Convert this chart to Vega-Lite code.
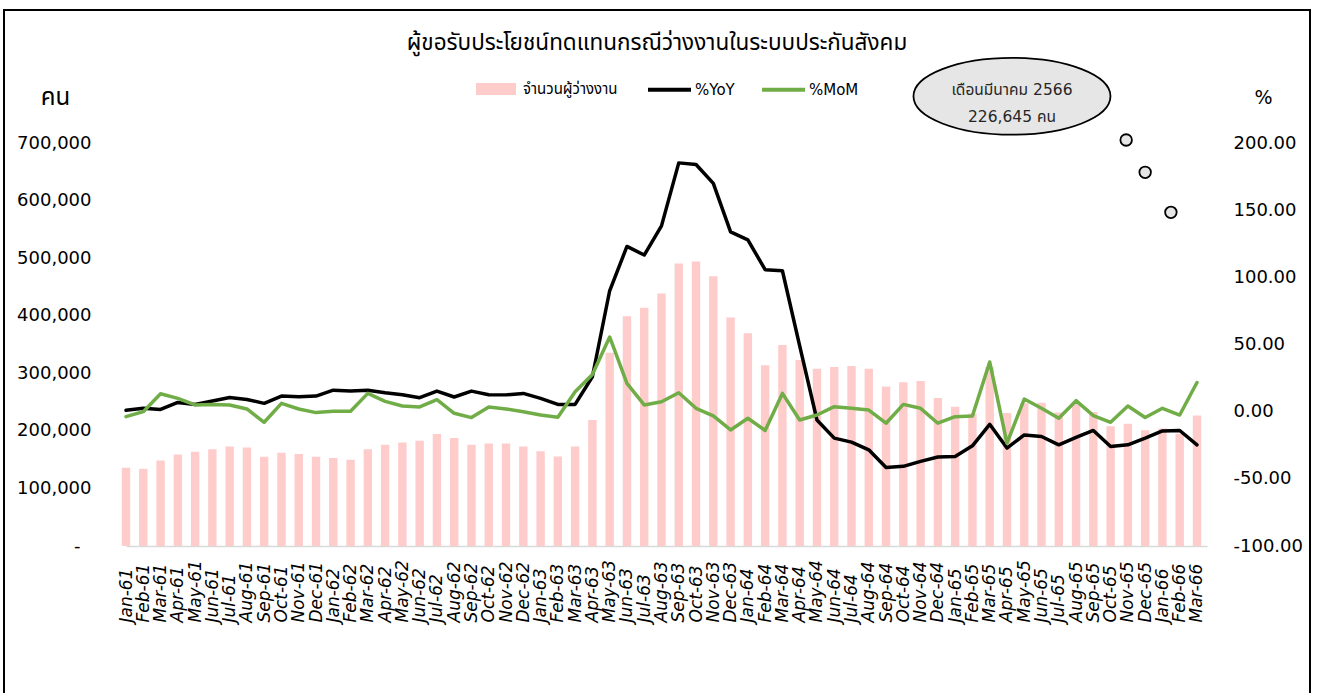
{
  "$schema": "https://vega.github.io/schema/vega-lite/v6.json",
  "width": 1306,
  "height": 700,
  "autosize": {"type": "none"},
  "padding": {"left": 4, "top": 10, "right": 9, "bottom": 0},
  "background": "white",
  "title": {
    "text": "ผู้ขอรับประโยชน์ทดแทนกรณีว่างงานในระบบประกันสังคม",
    "font": "Noto Sans Thai, Noto Sans, DejaVu Sans, sans-serif",
    "fontSize": 22.5,
    "fontWeight": "normal",
    "color": "#000000",
    "anchor": "middle",
    "dx": 0,
    "dy": 50.7,
    "offset": 6
  },
  "datasets": {
    "main": [
      {"m": "Jan-61", "n": 136000, "yoy": 1.0, "mom": -3.7},
      {"m": "Feb-61", "n": 134000, "yoy": 2.5, "mom": 0.0},
      {"m": "Mar-61", "n": 148500, "yoy": 1.7, "mom": 13.3},
      {"m": "Apr-61", "n": 159000, "yoy": 6.9, "mom": 9.9},
      {"m": "May-61", "n": 163500, "yoy": 5.4, "mom": 5.0},
      {"m": "Jun-61", "n": 168000, "yoy": 7.9, "mom": 5.4},
      {"m": "Jul-61", "n": 172700, "yoy": 10.6, "mom": 5.0},
      {"m": "Aug-61", "n": 171000, "yoy": 9.1, "mom": 2.0},
      {"m": "Sep-61", "n": 155000, "yoy": 6.2, "mom": -7.9},
      {"m": "Oct-61", "n": 162000, "yoy": 11.6, "mom": 6.2},
      {"m": "Nov-61", "n": 160000, "yoy": 11.1, "mom": 2.0},
      {"m": "Dec-61", "n": 155000, "yoy": 11.6, "mom": -0.7},
      {"m": "Jan-62", "n": 153000, "yoy": 16.0, "mom": 0.3},
      {"m": "Feb-62", "n": 150000, "yoy": 15.3, "mom": 0.3},
      {"m": "Mar-62", "n": 168000, "yoy": 16.0, "mom": 13.6},
      {"m": "Apr-62", "n": 176000, "yoy": 14.1, "mom": 7.7},
      {"m": "May-62", "n": 179600, "yoy": 12.6, "mom": 4.2},
      {"m": "Jun-62", "n": 183000, "yoy": 10.4, "mom": 3.5},
      {"m": "Jul-62", "n": 194600, "yoy": 15.3, "mom": 8.9},
      {"m": "Aug-62", "n": 187700, "yoy": 10.9, "mom": -1.2},
      {"m": "Sep-62", "n": 176000, "yoy": 15.3, "mom": -4.4},
      {"m": "Oct-62", "n": 178000, "yoy": 12.6, "mom": 3.5},
      {"m": "Nov-62", "n": 178000, "yoy": 12.5, "mom": 2.0},
      {"m": "Dec-62", "n": 172700, "yoy": 13.6, "mom": 0.0},
      {"m": "Jan-63", "n": 164700, "yoy": 9.9, "mom": -2.5},
      {"m": "Feb-63", "n": 155400, "yoy": 5.4, "mom": -4.2},
      {"m": "Mar-63", "n": 172700, "yoy": 5.4, "mom": 14.8},
      {"m": "Apr-63", "n": 219000, "yoy": 26.0, "mom": 27.7},
      {"m": "May-63", "n": 335600, "yoy": 90.0, "mom": 55.6},
      {"m": "Jun-63", "n": 399000, "yoy": 123.0, "mom": 21.0},
      {"m": "Jul-63", "n": 414000, "yoy": 116.6, "mom": 5.0},
      {"m": "Aug-63", "n": 438700, "yoy": 138.3, "mom": 7.4},
      {"m": "Sep-63", "n": 490500, "yoy": 185.2, "mom": 14.1},
      {"m": "Oct-63", "n": 494000, "yoy": 184.0, "mom": 2.5},
      {"m": "Nov-63", "n": 468600, "yoy": 169.9, "mom": -3.2},
      {"m": "Dec-63", "n": 397000, "yoy": 133.8, "mom": -13.6},
      {"m": "Jan-64", "n": 369600, "yoy": 127.9, "mom": -4.9},
      {"m": "Feb-64", "n": 314000, "yoy": 105.7, "mom": -14.0},
      {"m": "Mar-64", "n": 349000, "yoy": 104.9, "mom": 13.6},
      {"m": "Apr-64", "n": 323000, "yoy": 49.0, "mom": -6.2},
      {"m": "May-64", "n": 308000, "yoy": -6.2, "mom": -2.5},
      {"m": "Jun-64", "n": 311000, "yoy": -19.7, "mom": 3.7},
      {"m": "Jul-64", "n": 312600, "yoy": -22.7, "mom": 2.5},
      {"m": "Aug-64", "n": 308000, "yoy": -28.4, "mom": 1.2},
      {"m": "Sep-64", "n": 277000, "yoy": -41.5, "mom": -8.6},
      {"m": "Oct-64", "n": 284500, "yoy": -40.7, "mom": 5.4},
      {"m": "Nov-64", "n": 286700, "yoy": -37.0, "mom": 2.5},
      {"m": "Dec-64", "n": 257000, "yoy": -33.8, "mom": -8.6},
      {"m": "Jan-65", "n": 242000, "yoy": -33.3, "mom": -3.7},
      {"m": "Feb-65", "n": 230000, "yoy": -25.4, "mom": -3.2},
      {"m": "Mar-65", "n": 311000, "yoy": -9.4, "mom": 37.0},
      {"m": "Apr-65", "n": 231000, "yoy": -27.1, "mom": -23.4},
      {"m": "May-65", "n": 248000, "yoy": -17.3, "mom": 9.4},
      {"m": "Jun-65", "n": 249000, "yoy": -18.5, "mom": 2.5},
      {"m": "Jul-65", "n": 232000, "yoy": -24.7, "mom": -4.9},
      {"m": "Aug-65", "n": 247000, "yoy": -19.2, "mom": 8.2},
      {"m": "Sep-65", "n": 232600, "yoy": -14.0, "mom": -2.9},
      {"m": "Oct-65", "n": 208000, "yoy": -25.9, "mom": -7.9},
      {"m": "Nov-65", "n": 212400, "yoy": -24.7, "mom": 4.2},
      {"m": "Dec-65", "n": 201000, "yoy": -19.7, "mom": -4.4},
      {"m": "Jan-66", "n": 204000, "yoy": -14.3, "mom": 2.5},
      {"m": "Feb-66", "n": 195000, "yoy": -14.0, "mom": -2.5},
      {"m": "Mar-66", "n": 226645, "yoy": -24.7, "mom": 21.7}
    ],
    "bubble": [
      {"xi": 57.9, "v": 705200},
      {"xi": 59.0, "v": 649100},
      {"xi": 60.49, "v": 579600}
    ],
    "callout": [
      {"xi": 51.29, "v": 781100}
    ],
    "callouttext": [
      {"xi": 51.29, "v": 792000, "t": "เดือนมีนาคม 2566"},
      {"xi": 51.29, "v": 745700, "t": "226,645 คน"}
    ]
  },
  "data": {"name": "main"},
  "resolve": {"scale": {"x": "independent", "y": "independent"}},
  "layer": [
    {
      "mark": {"type": "bar", "width": 8.4},
      "encoding": {
        "x": {
          "field": "m", "type": "nominal", "sort": null,
          "scale": {"type": "point", "padding": 0.29, "align": 0, "range": [122, 1203]},
          "axis": {
            "title": null,
            "offset": -164,
            "labelAngle": 270,
            "labelAlign": "left",
            "labelBaseline": "middle",
            "labelPadding": 76,
            "labelFont": "DejaVu Sans",
            "labelFontSize": 17,
            "labelFontStyle": "italic",
            "labelColor": "#000000",
            "labelOverlap": false,
            "labelFlush": false,
            "labelBound": false,
            "ticks": false,
            "domain": true,
            "domainColor": "#d9d9d9",
            "domainWidth": 1.5,
            "grid": false
          }
        },
        "y": {
          "field": "n", "type": "quantitative",
          "scale": {"domain": [0, 700000], "nice": false, "range": [536, 133]},
          "axis": {
            "orient": "left",
            "offset": -122,
            "values": [0, 100000, 200000, 300000, 400000, 500000, 600000, 700000],
            "labelExpr": "datum.value == 0 ? '-' : format(datum.value, ',')",
            "labelFont": "DejaVu Sans",
            "labelFontSize": 18,
            "labelColor": "#000000",
            "labelPadding": {"condition": {"test": "datum.value == 0", "value": 46}, "value": 35},
            "ticks": false,
            "domain": false,
            "grid": false,
            "title": "คน",
            "titleAngle": 0,
            "titleX": -71,
            "titleY": 87,
            "titleAlign": "center",
            "titleBaseline": "middle",
            "titleFont": "Noto Sans Thai, Noto Sans, DejaVu Sans, sans-serif",
            "titleFontSize": 24,
            "titleFontWeight": "normal",
            "titleColor": "#000000"
          }
        },
        "fill": {
          "datum": "จำนวนผู้ว่างงาน",
          "type": "nominal",
          "scale": {"domain": ["จำนวนผู้ว่างงาน"], "range": ["#ffcccc"]},
          "legend": {
            "title": null,
            "orient": "none",
            "legendX": 472,
            "legendY": 59,
            "symbolType": "M-1,-0.3H1V0.3H-1Z",
            "symbolSize": 1600,
            "symbolStrokeWidth": 0,
            "labelFont": "DejaVu Sans, Noto Sans Thai, sans-serif",
            "labelFontSize": 15,
            "labelColor": "#000000",
            "labelOffset": 7,
            "padding": 0
          }
        }
      }
    },
    {
      "mark": {"type": "line", "strokeWidth": 3.5, "strokeJoin": "round", "strokeCap": "round"},
      "encoding": {
        "x": {
          "field": "m", "type": "nominal", "sort": null,
          "scale": {"type": "point", "padding": 0.29, "align": 0, "range": [122, 1203]},
          "axis": null
        },
        "y": {
          "field": "yoy", "type": "quantitative",
          "scale": {"domain": [-100, 200], "nice": false, "range": [536, 133]},
          "axis": {
            "orient": "right",
            "offset": -103,
            "values": [-100, -50, 0, 50, 100, 150, 200],
            "labelExpr": "replace(format(datum.value, '.2f'), '\u2212', '-')",
            "labelFont": "DejaVu Sans",
            "labelFontSize": 18,
            "labelColor": "#000000",
            "labelPadding": 26,
            "ticks": false,
            "domain": false,
            "grid": false,
            "title": "%",
            "titleAngle": 0,
            "titleX": 56,
            "titleY": 87,
            "titleAlign": "center",
            "titleBaseline": "middle",
            "titleFont": "DejaVu Sans",
            "titleFontSize": 19,
            "titleFontWeight": "normal",
            "titleColor": "#000000"
          }
        },
        "stroke": {
          "datum": "%YoY",
          "type": "nominal",
          "scale": {"domain": ["%YoY", "%MoM"], "range": ["#000000", "#70ad47"]},
          "legend": {
            "title": null,
            "orient": "none",
            "direction": "horizontal",
            "legendX": 642,
            "legendY": 56,
            "symbolType": "stroke",
            "symbolSize": 1849,
            "symbolStrokeWidth": 4,
            "labelFont": "DejaVu Sans",
            "labelFontSize": 15,
            "labelColor": "#000000",
            "labelOffset": 2,
            "columnPadding": 19,
            "padding": 0
          }
        }
      }
    },
    {
      "mark": {"type": "line", "strokeWidth": 3.5, "strokeJoin": "round", "strokeCap": "round"},
      "encoding": {
        "x": {
          "field": "m", "type": "nominal", "sort": null,
          "scale": {"type": "point", "padding": 0.29, "align": 0, "range": [122, 1203]},
          "axis": null
        },
        "y": {
          "field": "mom", "type": "quantitative",
          "scale": {"domain": [-100, 200], "nice": false, "range": [536, 133]},
          "axis": null
        },
        "stroke": {"datum": "%MoM", "type": "nominal"}
      }
    },
    {
      "data": {"name": "callout"},
      "mark": {
        "type": "point",
        "shape": "M-1,0A1,0.39,0,1,1,1,0A1,0.39,0,1,1,-1,0Z",
        "size": 38809,
        "filled": true,
        "fill": "#e6e6e6",
        "stroke": "#000000",
        "strokeWidth": 1.8,
        "opacity": 1
      },
      "encoding": {
        "x": {"field": "xi", "type": "quantitative", "scale": {"domain": [0, 62.58], "nice": false, "zero": false, "range": [122, 1203]}, "axis": null},
        "y": {"field": "v", "type": "quantitative", "scale": {"domain": [0, 700000], "nice": false, "range": [536, 133]}, "axis": null}
      }
    },
    {
      "data": {"name": "callouttext"},
      "mark": {
        "type": "text",
        "font": "DejaVu Sans, Noto Sans Thai, sans-serif",
        "fontSize": 15.5,
        "color": "#262626",
        "align": "center",
        "baseline": "middle"
      },
      "encoding": {
        "x": {"field": "xi", "type": "quantitative", "scale": {"domain": [0, 62.58], "nice": false, "zero": false, "range": [122, 1203]}, "axis": null},
        "y": {"field": "v", "type": "quantitative", "scale": {"domain": [0, 700000], "nice": false, "range": [536, 133]}, "axis": null},
        "text": {"field": "t", "type": "nominal"}
      }
    },
    {
      "data": {"name": "bubble"},
      "mark": {
        "type": "point",
        "shape": "circle",
        "size": 133,
        "filled": true,
        "fill": "#e6e6e6",
        "stroke": "#000000",
        "strokeWidth": 1.8,
        "opacity": 1
      },
      "encoding": {
        "x": {"field": "xi", "type": "quantitative", "scale": {"domain": [0, 62.58], "nice": false, "zero": false, "range": [122, 1203]}, "axis": null},
        "y": {"field": "v", "type": "quantitative", "scale": {"domain": [0, 700000], "nice": false, "range": [536, 133]}, "axis": null}
      }
    }
  ],
  "config": {
    "view": {"stroke": "#000000", "strokeWidth": 2, "fill": "white"},
    "axis": {"grid": false}
  }
}
